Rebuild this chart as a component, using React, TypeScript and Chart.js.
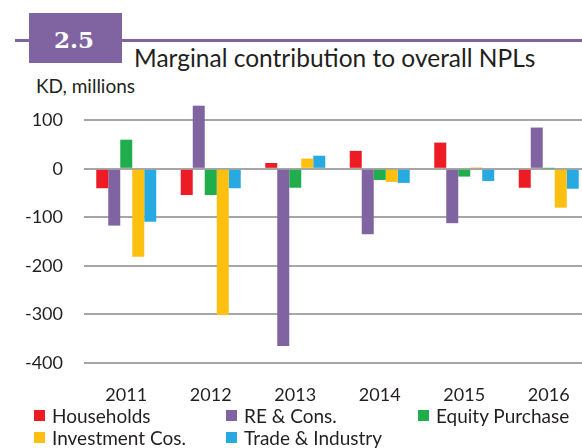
import React, { useEffect, useRef } from "react";
import { Chart, registerables } from "chart.js";

Chart.register(...registerables);

const YEARS = ["2011", "2012", "2013", "2014", "2015", "2016"];
const SERIES_NAMES = ["Households", "RE & Cons.", "Equity Purchase", "Investment Cos.", "Trade & Industry"];
const HOUSEHOLDS = [-40, -54, 12, 37, 54, -39];
const RE_CONS = [-117, 130, -365, -135, -112, 85];
const EQUITY = [60, -54, -39, -23, -16, 1];
const INVESTMENT = [-181, -301, 21, -27, 3, -80];
const TRADE = [-109, -40, 27, -29, -25, -41];
const SERIES_VALUES = [HOUSEHOLDS, RE_CONS, EQUITY, INVESTMENT, TRADE];
const COLORS = ["#ed1c24", "#8064a2", "#1fae4b", "#fdbf10", "#27aae1"];
const Y_TICKS = [100, 0, -100, -200, -300, -400];

const FONT = "Lato, 'Open Sans', sans-serif";
const TEXT_COLOR = "#231f20";

export default function App() {
  const ref = useRef<HTMLCanvasElement | null>(null);

  useEffect(() => {
    if (!ref.current) return;
    const chart = new Chart(ref.current, {
      type: "bar",
      data: {
        labels: YEARS,
        datasets: SERIES_NAMES.map((name, i) => ({
          label: name,
          data: SERIES_VALUES[i],
          backgroundColor: COLORS[i],
          borderWidth: 0,
          categoryPercentage: 0.71,
          barPercentage: 1,
        })),
      },
      options: {
        animation: false,
        responsive: false,
        maintainAspectRatio: false,
        layout: { padding: { left: 0, right: 9, top: 96, bottom: 25 } },
        plugins: {
          legend: { display: false },
          title: { display: false },
          tooltip: { enabled: false },
        },
        scales: {
          x: {
            grid: { display: false },
            border: { display: false },
            ticks: {
              color: TEXT_COLOR,
              font: { family: FONT, size: 18 },
              padding: 13,
              maxRotation: 0,
            },
            afterFit: (scale: any) => {
              scale.height = 60;
            },
          },
          y: {
            min: -400,
            max: 150,
            grid: {
              color: "#a6a6a6",
              lineWidth: 2,
              drawTicks: false,
            },
            border: { display: false },
            afterBuildTicks: (scale: any) => {
              scale.ticks = Y_TICKS.map((v) => ({ value: v }));
            },
            ticks: {
              color: TEXT_COLOR,
              font: { family: FONT, size: 18 },
              padding: 21,
            },
            afterFit: (scale: any) => {
              scale.width = 84;
            },
          },
        },
      },
    });
    return () => chart.destroy();
  }, []);

  return (
    <div
      style={{
        position: "fixed",
        left: 0,
        top: 0,
        width: 582,
        height: 448,
        overflow: "hidden",
        background: "#fff",
        fontFamily: FONT,
        color: TEXT_COLOR,
      }}
    >
      <div style={{ position: "absolute", left: 15, top: 38.5, width: 567, height: 3, background: "#8064a2" }} />
      <div
        style={{
          position: "absolute",
          left: 29,
          top: 13,
          width: 93,
          height: 50,
          background: "#8064a2",
        }}
      />
      <div
        style={{
          position: "absolute",
          left: 54,
          top: 28,
          fontFamily: "'DejaVu Serif', serif",
          fontWeight: 700,
          fontSize: 23,
          lineHeight: "23px",
          color: "#fff",
          whiteSpace: "nowrap",
        }}
      >
        2.5
      </div>
      <div
        style={{
          position: "absolute",
          left: 134,
          top: 44.5,
          fontSize: 24.5,
          lineHeight: "25px",
          whiteSpace: "nowrap",
        }}
      >
        Marginal contribution to overall NPLs
      </div>
      <div
        style={{
          position: "absolute",
          left: 36,
          top: 76,
          fontSize: 19,
          lineHeight: "19px",
          whiteSpace: "nowrap",
        }}
      >
        KD, millions
      </div>
      <canvas
        ref={ref}
        width={600}
        height={448}
        style={{ position: "absolute", left: 0, top: 0, width: 600, height: 448 }}
      />
      {SERIES_NAMES.map((name, i) => {
        const col = i % 3;
        const row = Math.floor(i / 3);
        return (
          <div
            key={name}
            style={{
              position: "absolute",
              left: 34 + col * 192,
              top: 406 + row * 22,
              height: 19,
              display: "flex",
              alignItems: "center",
              fontSize: 19,
              lineHeight: "19px",
              whiteSpace: "nowrap",
            }}
          >
            <span
              style={{
                display: "inline-block",
                width: 11,
                height: 11,
                background: COLORS[i],
                marginRight: 7,
              }}
            />
            <span>{name}</span>
          </div>
        );
      })}
    </div>
  );
}
